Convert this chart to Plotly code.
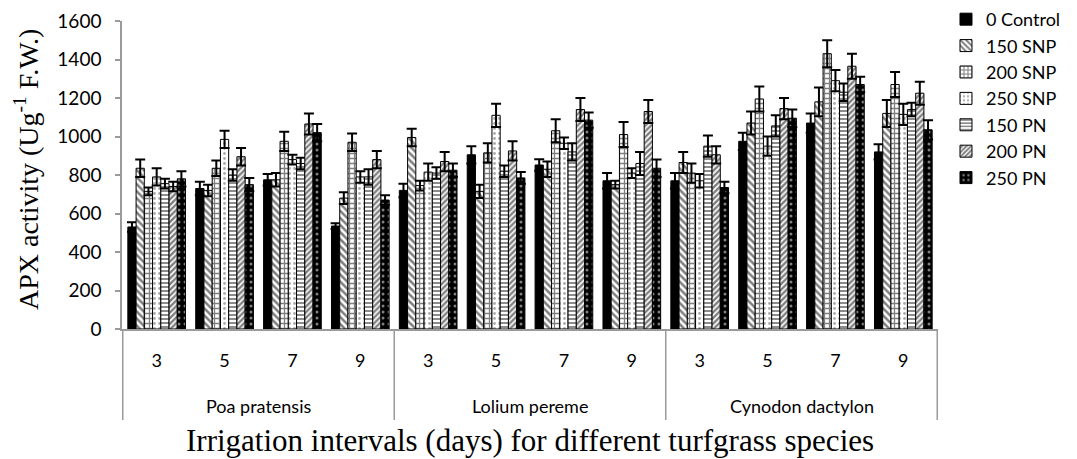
import plotly.graph_objects as go

species = ["Poa pratensis", "Lolium pereme", "Cynodon dactylon"]
intervals = ["3", "5", "7", "9"]
series_names = ["0 Control", "150 SNP", "200 SNP", "250 SNP", "150 PN", "200 PN", "250 PN"]

control = [530, 730, 775, 535, 720, 905, 852, 770, 770, 975, 1070, 920]
snp150 = [835, 720, 775, 680, 995, 715, 830, 750, 865, 1070, 1180, 1120]
snp200 = [715, 835, 975, 970, 745, 915, 1030, 1010, 810, 1195, 1430, 1270]
snp250 = [790, 985, 880, 790, 815, 1110, 965, 810, 770, 950, 1290, 1115]
pn150 = [755, 800, 860, 790, 810, 820, 920, 860, 950, 1055, 1230, 1140]
pn200 = [740, 895, 1065, 880, 870, 925, 1140, 1130, 905, 1145, 1365, 1225]
pn250 = [780, 750, 1020, 670, 825, 785, 1085, 835, 735, 1095, 1270, 1035]

err_control = [25, 35, 30, 15, 35, 45, 30, 40, 40, 45, 50, 40]
err_snp150 = [45, 30, 35, 30, 45, 35, 40, 20, 55, 60, 75, 70]
err_snp200 = [20, 40, 50, 45, 25, 50, 60, 65, 50, 65, 70, 65]
err_snp250 = [45, 45, 25, 30, 45, 60, 30, 25, 35, 50, 55, 55]
err_pn150 = [25, 30, 30, 40, 30, 30, 45, 60, 55, 55, 45, 35]
err_pn200 = [25, 45, 55, 45, 50, 50, 60, 60, 45, 55, 65, 60]
err_pn250 = [40, 35, 45, 25, 35, 30, 40, 45, 30, 45, 40, 50]

values = [control, snp150, snp200, snp250, pn150, pn200, pn250]
errors = [err_control, err_snp150, err_snp200, err_snp250, err_pn150, err_pn200, err_pn250]

# pattern styles: (shape, bgcolor, fgcolor, size, solidity)
styles = [
    ("", "black", "black", 8, 0.3),
    ("\\", "white", "black", 5, 0.5),
    ("+", "white", "black", 5, 0.45),
    (".", "white", "#555555", 5, 0.25),
    ("-", "white", "black", 4, 0.45),
    ("/", "white", "black", 4, 0.6),
    (".", "black", "white", 6, 0.2),
]

categories = [f"{s} {i}" for s in species for i in intervals]
tick_text = [i for _ in species for i in intervals]

SANS = "Lato, sans-serif"
SERIF = "Liberation Serif, Times New Roman, serif"
AXIS_GRAY = "#9a9a9a"

fig = go.Figure()
for name, vals, errs, st in zip(series_names, values, errors, styles):
    shape, bg, fg, size, sol = st
    marker = dict(color=bg, line=dict(color="black", width=1))
    if shape:
        marker["pattern"] = dict(shape=shape, bgcolor=bg, fgcolor=fg, size=size,
                                 solidity=sol, fillmode="overlay")
    fig.add_trace(go.Bar(
        name=name,
        x=categories,
        y=vals,
        marker=marker,
        error_y=dict(type="data", array=errs, visible=True, color="black",
                     thickness=2, width=5),
    ))

# plot area: x 122..938 px, y 21..329 px
plot_h = 308.0
div_bottom = -(420 - 329) / plot_h
species_y = -(406 - 329) / plot_h

n_int = len(intervals)
for k in range(len(species) + 1):
    fig.add_shape(type="line", xref="x", yref="paper",
                  x0=k * n_int - 0.5, x1=k * n_int - 0.5, y0=0, y1=div_bottom,
                  line=dict(color=AXIS_GRAY, width=1.5))
for k, s in enumerate(species):
    fig.add_annotation(x=k * n_int + (n_int - 1) / 2, xref="x", y=species_y, yref="paper",
                       text=s, showarrow=False, yanchor="middle",
                       font=dict(family=SANS, size=18, color="black"))

fig.add_annotation(x=0.5, xref="paper", y=-(440 - 329) / plot_h, yref="paper",
                   text="Irrigation intervals (days) for different turfgrass species",
                   showarrow=False, yanchor="middle",
                   font=dict(family=SERIF, size=31, color="black"))
fig.add_annotation(x=-(122 - 26) / 816.0, xref="paper", y=(329 - 170) / plot_h, yref="paper",
                   text="APX activity (Ug<sup>-1</sup> F.W.)", textangle=-90,
                   showarrow=False, xanchor="center", yanchor="middle",
                   font=dict(family=SERIF, size=28, color="black"))

fig.update_layout(
    width=1077, height=459,
    barmode="group",
    bargap=0.15,
    bargroupgap=0,
    plot_bgcolor="white",
    paper_bgcolor="white",
    margin=dict(l=122, r=139, t=21, b=130, autoexpand=False),
    font=dict(family=SANS, size=18, color="black"),
    legend=dict(x=1.0098, y=1.065, xanchor="left", yanchor="top",
                font=dict(family=SANS, size=18, color="black"),
                bgcolor="rgba(0,0,0,0)"),
    showlegend=True,
)
fig.update_yaxes(
    range=[0, 1600], dtick=200, showgrid=False, zeroline=False, automargin=False,
    showline=True, linecolor=AXIS_GRAY, linewidth=1.5,
    ticks="outside", ticklen=5, tickcolor=AXIS_GRAY, tickwidth=1.5,
    ticklabelstandoff=10,
    tickfont=dict(family=SANS, size=19),
)
fig.update_xaxes(
    type="category", showgrid=False, automargin=False,
    tickvals=categories, ticktext=tick_text,
    showline=True, linecolor=AXIS_GRAY, linewidth=1.5,
    ticks="", ticklabelstandoff=15,
    tickfont=dict(family=SANS, size=18),
)

fig.write_html("out.html", config={"displayModeBar": False},
               post_script="document.body.style.margin='0';")
